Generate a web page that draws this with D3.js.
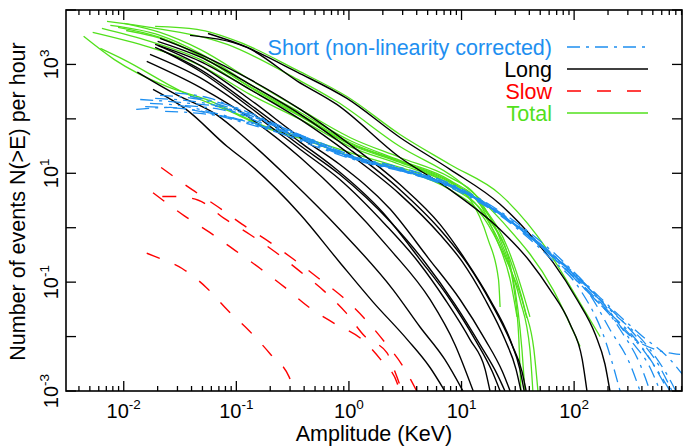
<!DOCTYPE html>
<html>
<head>
<meta charset="utf-8">
<script src="https://cdn.jsdelivr.net/npm/d3@7"></script>
<style>
  html, body { margin: 0; padding: 0; background: #fff; }
  svg { display: block; font-family: "Liberation Sans", Arial, Helvetica, sans-serif; }
</style>
</head>
<body>
<svg id="chart" width="683" height="448"></svg>
<script>
const width = 683, height = 448;
const plot = {left: 66, right: 682, top: 10, bottom: 391};

// axis ranges and labelled decades
const xDomain = [0.00307, 908],
    yDomain = [1e-3, 1e4];
const xLabelExps = [-2, -1, 0, 1, 2];
const yTickExps = [-3, -2, -1, 0, 1, 2, 3, 4];
const yLabelExps = [-3, -1, 1, 3];

// [amplitude KeV, events per hour above that amplitude]
const longCurves = [
    [[0.056,3700],[0.108,2330],[0.35,715],[0.96,237],[2.84,45.5],[7.9,11.8],[22,2.7],[40.5,0.75],[65,0.23],[106,0.048],[154,0.011],[188,0.0031],[208,0.001]],
    [[0.0388,3420],[0.124,2050],[0.35,490],[0.78,184],[2.84,19.5],[7.9,5.0],[22,0.93],[40.5,0.24],[61,0.073],[92,0.017],[118,0.0038],[130,0.001]],
    [[0.021,3000],[0.0476,1530],[0.132,530],[0.37,149],[1.02,33.8],[2.84,6.2],[6.44,1.15],[10.8,0.26],[17.9,0.048],[27,0.0088],[33,0.0025],[36,0.001]],
    [[0.019,2330],[0.0476,1140],[0.132,347],[0.37,97.6],[1.02,22.2],[2.84,4.1],[6.44,0.75],[10.1,0.24],[16.2,0.048],[24.3,0.0088],[30.5,0.0025],[33.7,0.001]],
    [[0.020,2650],[0.0476,1370],[0.132,429],[0.37,121],[1.02,27.4],[2.84,5.0],[6.44,0.93],[11.4,0.21],[18.6,0.039],[28,0.0071],[34.4,0.0023],[37.5,0.001]],
    [[0.019,2050],[0.0476,810],[0.132,184],[0.37,37],[0.72,13.3],[2.0,1.9],[4.28,0.26],[7.9,0.048],[13.2,0.0088],[18.7,0.0023],[22,0.001]],
    [[0.021,1890],[0.0476,750],[0.132,163],[0.37,32],[0.83,9.5],[2.32,1.3],[4.75,0.23],[8.75,0.039],[14.6,0.0071],[20.8,0.002],[24.3,0.001]],
    [[0.0171,1530],[0.0476,570],[0.132,137],[0.37,27.4],[0.83,7.7],[2.1,1.15],[4.1,0.24],[7.15,0.048],[11.9,0.0088],[16.2,0.0025],[17.9,0.001]],
    [[0.020,2240],[0.0476,960],[0.132,227],[0.37,45.5],[0.83,14.5],[2.32,2.2],[5.05,0.28],[9.7,0.048],[16.2,0.0088],[23,0.0023],[27,0.001]],
    [[0.0182,347],[0.0358,149],[0.083,31],[0.132,14.5],[0.37,1.75],[0.83,0.23],[1.64,0.043],[3.3,0.0088],[5.25,0.0027],[7.1,0.001]],
    [[0.0132,720],[0.029,281],[0.066,121],[0.124,41.8],[0.30,7.7],[0.83,0.93],[2.46,0.073],[4.28,0.015],[7.1,0.0038],[10.3,0.001]],
    [[0.016,1140],[0.0476,380],[0.132,104],[0.37,19.5],[0.92,3.3],[2.32,0.40],[5.25,0.048],[8.75,0.0071],[12.7,0.001]]
];

const totalCurves = [
    [[0.019,5000],[0.0447,4400],[0.108,2540],[0.35,775],[0.96,257],[2.84,51.7],[7.9,14.5],[22,4.1],[57.5,0.40],[102,0.059],[170,0.010]],
    [[0.0071,6170],[0.0171,4800],[0.083,2330],[0.35,530],[0.78,208],[2.84,31],[9.1,7.7],[23.4,1.25],[65,0.073],[113,0.0066]],
    [[0.0101,5680],[0.021,3870],[0.0476,1890],[0.132,530],[0.37,149],[1.02,45.5],[2.84,19.5],[7.9,8.4],[13.2,4.1],[19.3,1.15],[27,0.21],[31.7,0.031],[34.4,0.0058],[36.6,0.001]],
    [[0.0076,5200],[0.021,3420],[0.0476,1600],[0.132,429],[0.37,131],[1.02,40],[2.84,17.2],[7.9,7.4],[14.6,2.7],[20.5,0.61],[27,0.112],[31.1,0.023]],
    [[0.0064,4600],[0.0171,2650],[0.0476,1240],[0.132,347],[0.37,111],[1.02,33.8],[2.84,15.8],[7.1,7.1],[11.9,3.3],[17.2,0.61],[21.3,0.112],[22,0.035]],
    [[0.0053,3870],[0.0171,2050],[0.0476,960],[0.132,281],[0.37,97.6],[1.02,31],[2.84,14.5],[7.9,6.2],[14.6,2.2],[24.3,0.32],[33,0.048],[40.5,0.0058],[43,0.001]],
    [[0.0044,3280],[0.0082,1240],[0.024,395],[0.054,227],[0.18,73],[0.37,47],[1.02,24],[2.84,12.8],[7.9,5.7],[16.2,1.75],[27,0.26],[36.6,0.031],[43.9,0.0058],[47.7,0.001]],
    [[0.0062,1970],[0.0099,1240],[0.034,305],[0.088,137],[0.18,69],[0.37,43.7],[1.02,21],[2.84,11.8],[7.9,5.0],[15.5,1.6],[26,0.21],[34.4,0.048],[38,0.022]],
    [[0.0089,4800],[0.021,3130],[0.0476,1430],[0.132,393],[0.37,121],[1.02,36.8],[2.84,16.5],[7.9,6.8],[14,3.0],[22,0.61],[29.3,0.073],[32.3,0.0088],[33.7,0.001]],
    [[0.0105,4200],[0.0258,2650],[0.058,1140],[0.132,380],[0.37,116],[1.02,35],[2.84,16.5],[7.9,7.1],[16.2,2.2],[26,0.40],[34.4,0.073],[40.5,0.023]]
];

const slowCurves = [
    [[0.0215,12.8],[0.0405,5.0],[0.068,2.45],[0.113,1.15],[0.196,0.55],[0.325,0.26],[0.54,0.117],[0.89,0.052],[1.39,0.021],[2.1,0.0077],[3.0,0.0029],[4.0,0.001]],
    [[0.0182,4.4],[0.0343,1.67],[0.058,0.82],[0.098,0.38],[0.163,0.178],[0.27,0.080],[0.43,0.036],[0.74,0.0175],[1.31,0.0088],[1.97,0.0035],[2.68,0.0014],[2.78,0.001]],
    [[0.022,3.75],[0.029,3.75],[0.046,3.2],[0.078,1.48],[0.132,0.75],[0.225,0.35],[0.37,0.156],[0.61,0.067],[0.94,0.0275],[1.39,0.010],[2.18,0.005],[2.62,0.002],[2.96,0.001]],
    [[0.016,0.34],[0.0186,0.30],[0.033,0.178],[0.054,0.080],[0.083,0.031],[0.130,0.0128],[0.20,0.0048],[0.295,0.0018],[0.33,0.001]]
];

const shortCurves = [
    [[0.0129,149],[0.0258,162],[0.0476,137],[0.132,78.9],[0.37,41.8],[1.02,19.5],[2.84,11.8],[7.9,6.0],[22,1.8],[61,0.32],[170,0.039],[385,0.0071],[580,0.002],[711,0.001]],
    [[0.0171,192],[0.0316,175],[0.072,121],[0.163,75],[0.37,45.5],[1.02,20.3],[2.84,12.3],[7.9,6.2],[22,1.9],[61,0.36],[138,0.073],[256,0.0135],[385,0.0031],[472,0.001]],
    [[0.021,270],[0.0476,227],[0.108,137],[0.244,69],[0.55,37],[1.26,17.9],[2.84,11.3],[7.9,5.5],[22,1.67],[61,0.28],[113,0.073],[188,0.0088],[256,0.001]],
    [[0.014,227],[0.0316,200],[0.072,163],[0.163,86],[0.37,47],[1.02,21],[2.84,12.8],[7.9,6.5],[22,2.0],[61,0.40],[170,0.052],[385,0.011],[711,0.0038],[920,0.002]],
    [[0.0285,300],[0.058,240],[0.132,121],[0.30,61],[0.68,30],[1.54,16.5],[3.49,10.3],[9.7,5.0],[27,1.36],[75,0.24],[208,0.031],[472,0.0058],[711,0.0016],[800,0.001]],
    [[0.0388,260],[0.088,175],[0.20,89],[0.45,41.8],[1.02,19.5],[2.84,11.8],[7.9,6.0],[22,1.75],[55,0.40],[138,0.073],[314,0.0135],[580,0.0027],[740,0.001]],
    [[0.0155,168],[0.0388,149],[0.088,104],[0.20,64],[0.45,33.8],[1.26,16.5],[3.49,9.9],[9.7,4.8],[27,1.3],[67.7,0.28],[170,0.048],[314,0.0088],[472,0.0027],[580,0.001]],
    [[0.019,237],[0.043,208],[0.097,143],[0.22,75],[0.50,37],[1.13,18.6],[3.15,11],[8.75,5.5],[24.3,1.54],[67.7,0.26],[170,0.039],[347,0.0088],[640,0.0052],[873,0.0047]],
    [[0.0233,137],[0.0476,126],[0.108,97.6],[0.244,61],[0.55,32.3],[1.26,17.2],[3.49,10.3],[9.7,4.8],[27,1.3],[75,0.24],[138,0.059],[208,0.0135],[314,0.0031],[385,0.001]],
    [[0.035,175],[0.072,149],[0.163,93],[0.37,47],[0.83,24],[1.89,14],[5.25,8.0],[14.6,3.3],[40.5,0.66],[113,0.098],[256,0.017],[472,0.0038],[640,0.0013]]
];

const series = [
    {key: "total", label: "Total", color: "#52e01c", dash: null, width: 1.3, curves: totalCurves},
    {key: "long", label: "Long", color: "#000000", dash: null, width: 1.4, curves: longCurves},
    {key: "slow", label: "Slow", color: "#ff0000", dash: "14,16", width: 1.4, curves: slowCurves},
    {key: "short", label: "Short (non-linearity corrected)", color: "#1e8ff0", dash: "13,6,3,6", width: 1.3, curves: shortCurves}
];
const legendOrder = ["short", "long", "slow", "total"];

const svg = d3.select("#chart");

const x = d3.scaleLog().domain(xDomain).range([plot.left, plot.right]);
const y = d3.scaleLog().domain(yDomain).range([plot.bottom, plot.top]);

svg.append("defs").append("clipPath").attr("id", "plotclip")
    .append("rect")
    .attr("x", plot.left).attr("y", plot.top)
    .attr("width", plot.right - plot.left).attr("height", plot.bottom - plot.top);

const line = d3.line()
    .x(d => x(d[0]))
    .y(d => y(d[1]))
    .curve(d3.curveMonotoneX);

const marks = svg.append("g").attr("clip-path", "url(#plotclip)");

series.forEach(s => {
    marks.append("g").attr("class", s.key)
        .selectAll("path").data(s.curves)
        .join("path")
        .attr("d", line)
        .attr("fill", "none")
        .attr("stroke", s.color)
        .attr("stroke-width", s.width)
        .attr("stroke-dasharray", s.dash)
        .attr("stroke-linejoin", "round");
});

// frame
svg.append("rect")
    .attr("x", plot.left).attr("y", plot.top)
    .attr("width", plot.right - plot.left).attr("height", plot.bottom - plot.top)
    .attr("fill", "none").attr("stroke", "#000").attr("stroke-width", 1.6);

// x ticks: decades long, 2..9 short, top and bottom pointing in
const xTicks = [];
d3.range(-3, 3).forEach(e => d3.range(1, 10).forEach(m => {
    const v = m * Math.pow(10, e);
    if (v > xDomain[0] && v < xDomain[1]) xTicks.push({v: v, major: m === 1});
}));

const ticks = svg.append("g").attr("stroke", "#000").attr("stroke-width", 1.3);
xTicks.forEach(t => {
    const len = t.major ? 10 : 5, px = x(t.v);
    ticks.append("line").attr("x1", px).attr("x2", px).attr("y1", plot.bottom).attr("y2", plot.bottom - len);
    ticks.append("line").attr("x1", px).attr("x2", px).attr("y1", plot.top).attr("y2", plot.top + len);
});
yTickExps.forEach(e => {
    const py = y(Math.pow(10, e));
    ticks.append("line").attr("x1", plot.left).attr("x2", plot.left + 10).attr("y1", py).attr("y2", py);
    ticks.append("line").attr("x1", plot.right).attr("x2", plot.right - 10).attr("y1", py).attr("y2", py);
});

// tick labels as 10 with superscript exponent
const labels = svg.append("g").attr("fill", "#000");
xLabelExps.forEach(e => {
    const t = labels.append("text")
        .attr("x", x(Math.pow(10, e))).attr("y", 418)
        .attr("text-anchor", "middle")
        .style("font-size", "20px");
    t.append("tspan").text("10");
    t.append("tspan").attr("dy", -9).style("font-size", "13.5px").text(e);
});
yLabelExps.forEach(e => {
    const t = labels.append("text")
        .attr("transform", `translate(58,${y(Math.pow(10, e))}) rotate(-90)`)
        .attr("text-anchor", "middle")
        .style("font-size", "20px");
    t.append("tspan").text("10");
    t.append("tspan").attr("dy", -9).style("font-size", "13.5px").text(e);
});

// axis titles
svg.append("text")
    .attr("x", (plot.left + plot.right) / 2).attr("y", 441)
    .attr("text-anchor", "middle")
    .style("font-size", "21.5px")
    .text("Amplitude (KeV)");
svg.append("text")
    .attr("transform", `translate(25,${(plot.top + plot.bottom) / 2 + 1}) rotate(-90)`)
    .attr("text-anchor", "middle")
    .style("font-size", "21.5px")
    .text("Number of events N(>E) per hour");

// legend
const legend = svg.append("g");
legendOrder.forEach((k, i) => {
    const s = series.find(d => d.key === k);
    const ly = 47 + 22 * i;
    legend.append("text")
        .attr("x", 552).attr("y", ly + 7.5)
        .attr("text-anchor", "end")
        .attr("fill", s.color)
        .style("font-size", "21.5px")
        .text(s.label);
    legend.append("line")
        .attr("x1", 567).attr("x2", 648).attr("y1", ly).attr("y2", ly)
        .attr("stroke", s.color)
        .attr("stroke-width", s.width)
        .attr("stroke-dasharray", s.dash);
});
</script>
</body>
</html>
